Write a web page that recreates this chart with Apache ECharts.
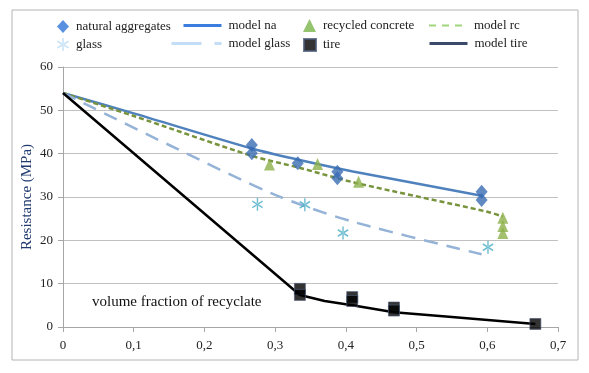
<!DOCTYPE html>
<html>
<head>
<meta charset="utf-8">
<script src="https://cdn.jsdelivr.net/npm/echarts@6/dist/echarts.min.js"></script>
<style>
  html, body { margin: 0; padding: 0; background: #fff; }
  #chart { width: 589px; height: 373px; }
</style>
</head>
<body>
<div id="chart"></div>
<script>
// measured points
var naX = [0.267, 0.267, 0.332, 0.388, 0.388, 0.592, 0.592];
var naY = [42.0, 40.1, 37.8, 35.8, 34.3, 31.2, 29.3];
var rcX = [0.292, 0.360, 0.418, 0.622, 0.622, 0.622];
var rcY = [37.5, 37.6, 33.5, 25.2, 23.3, 21.7];
var glassX = [0.275, 0.342, 0.396, 0.601];
var glassY = [28.3, 28.2, 21.7, 18.4];
var tireX = [0.335, 0.335, 0.409, 0.409, 0.468, 0.468, 0.668];
var tireY = [8.8, 7.4, 6.9, 6.0, 4.5, 3.8, 0.7];

// model curves
var modelNaX = [0, 0.1, 0.267, 0.333, 0.41, 0.592];
var modelNaY = [54, 49.3, 41.2, 38.6, 35.9, 30.3];
var modelRcX = [0, 0.1, 0.267, 0.333, 0.413, 0.6, 0.622];
var modelRcY = [54, 48.7, 39.5, 36.8, 33.3, 26.6, 25.5];
var modelGlassX = [0, 0.15, 0.3, 0.41, 0.592];
var modelGlassY = [54, 42, 30.5, 24.3, 16.8];
var modelTireX = [0, 0.335, 0.37, 0.409, 0.468, 0.55, 0.668];
var modelTireY = [54, 7.4, 6.0, 5.0, 3.4, 2.3, 0.7];

var xTicks = ['0', '0,1', '0,2', '0,3', '0,4', '0,5', '0,6', '0,7'];

function pairs(xs, ys) {
  var out = [];
  for (var i = 0; i < xs.length; i++) out.push([xs[i], ys[i]]);
  return out;
}

var serif = "'Liberation Serif', 'Times New Roman', serif";
var asterisk = 'path://M8.8 0L11.2 0L11.2 20L8.8 20Z' +
  'M1.94 16.04L19.26 6.04L18.06 3.96L0.74 13.96Z' +
  'M0.74 6.04L18.06 16.04L19.26 13.96L1.94 3.96Z';

// one legend per entry so they can sit in the two rows like the original
function legendAt(left, top, w, h, item) {
  return {
    left: left, top: top, padding: 0, itemWidth: w, itemHeight: h,
    textStyle: { fontFamily: serif, fontSize: 13, color: '#222', padding: [0, 0, 0, 2] },
    data: [item], selectedMode: false
  };
}
var noDot = { opacity: 0 };

var chart = echarts.init(document.getElementById('chart'));
chart.setOption({
  animation: false,
  grid: { left: 63, right: 31, top: 67, bottom: 46 },
  legend: [
    legendAt(57, 20, 12, 13, { name: 'natural aggregates', itemStyle: { color: '#2f76d8' } }),
    legendAt(182, 19, 38, 14, { name: 'model na', itemStyle: noDot, lineStyle: { color: '#3a7fe0', width: 3 } }),
    legendAt(303, 19, 13, 13, { name: 'recycled concrete', itemStyle: { color: '#79b54a' } }),
    legendAt(428, 19, 38, 14, { name: 'model rc', itemStyle: noDot, lineStyle: { color: '#9fd67c', width: 2, type: [7, 6] } }),
    legendAt(57, 38, 12, 13, { name: 'glass', itemStyle: { color: '#bcdcf5' } }),
    legendAt(170, 37, 50, 14, { name: 'model glass', itemStyle: noDot, lineStyle: { color: '#c3def6', width: 3, type: [30, 13] } }),
    legendAt(303, 38, 12, 12, { name: 'tire', itemStyle: { color: '#000' } }),
    legendAt(428, 37, 38, 14, { name: 'model tire', itemStyle: noDot, lineStyle: { color: '#3b4a68', width: 3 } })
  ],
  xAxis: {
    type: 'value', min: 0, max: 0.7, interval: 0.1,
    axisLine: { lineStyle: { color: '#a6a6a6' } },
    axisTick: { show: true, length: 5, lineStyle: { color: '#a6a6a6' } },
    splitLine: { show: false },
    axisLabel: {
      margin: 12, fontFamily: serif, fontSize: 13, color: '#222',
      formatter: function (v) { return xTicks[Math.round(v * 10)]; }
    }
  },
  yAxis: {
    type: 'value', min: 0, max: 60, interval: 10,
    name: 'Resistance (MPa)', nameLocation: 'middle', nameGap: 28, nameMoveOverlap: false,
    nameTextStyle: { fontFamily: serif, fontSize: 15, color: '#1f3a6e' },
    axisLine: { show: true, lineStyle: { color: '#a6a6a6' } },
    axisTick: { show: true, length: 5, lineStyle: { color: '#a6a6a6' } },
    splitLine: { lineStyle: { color: '#c0c0c0', width: 1 } },
    axisLabel: { margin: 10, fontFamily: serif, fontSize: 13, color: '#222' }
  },
  graphic: [
    { type: 'rect', shape: { x: 12, y: 10, width: 566, height: 350 },
      style: { fill: 'none', stroke: '#b4b4b4', lineWidth: 1 }, silent: true },
    { type: 'text', left: 92, top: 295,
      style: { text: 'volume fraction of recyclate', font: '15px ' + serif, fill: '#111' } }
  ],
  series: [
    { name: 'model na', type: 'line', data: pairs(modelNaX, modelNaY), smooth: 0.3,
      symbol: 'none', lineStyle: { color: '#4f81bd', width: 2.5 }, z: 2 },
    { name: 'model rc', type: 'line', data: pairs(modelRcX, modelRcY), smooth: 0.3,
      symbol: 'none', lineStyle: { color: '#77933c', width: 2.5, type: [5, 3] }, z: 2 },
    { name: 'model glass', type: 'line', data: pairs(modelGlassX, modelGlassY), smooth: 0.3,
      symbol: 'none', lineStyle: { color: '#95b3d7', width: 2.5, type: [14, 9] }, z: 2 },
    { name: 'model tire', type: 'line', data: pairs(modelTireX, modelTireY), smooth: false,
      symbol: 'none', lineStyle: { color: '#000', width: 2.5, join: 'round' }, z: 2 },
    { name: 'natural aggregates', type: 'scatter', data: pairs(naX, naY),
      symbol: 'diamond', symbolSize: [12, 14], itemStyle: { color: '#3a6cb3' }, z: 3 },
    { name: 'recycled concrete', type: 'scatter', data: pairs(rcX, rcY),
      symbol: 'triangle', symbolSize: [11, 12], itemStyle: { color: '#8cb04a' }, z: 3 },
    { name: 'glass', type: 'scatter', data: pairs(glassX, glassY),
      symbol: asterisk, symbolSize: [11, 13], itemStyle: { color: '#4bacc6' }, z: 3 },
    { name: 'tire', type: 'scatter', data: pairs(tireX, tireY),
      symbol: 'rect', symbolSize: 11,
      itemStyle: { color: '#000', borderColor: '#4a5a78', borderWidth: 0.8 }, z: 3 }
  ]
});
</script>
</body>
</html>
